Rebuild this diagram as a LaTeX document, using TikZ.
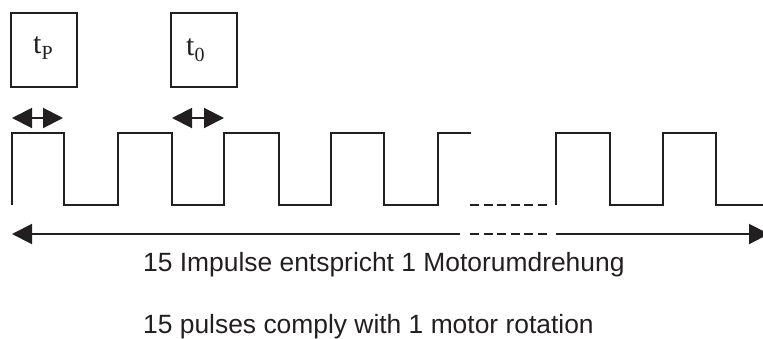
\documentclass[tikz,border=0pt]{standalone}
\usepackage{fontspec}
\setmainfont{Liberation Serif}
\newfontfamily\sansf{Liberation Sans}
\usetikzlibrary{arrows.meta}
\definecolor{fg}{HTML}{231F20}
\tikzset{
  labelbox/.style={draw=fg, line width=1.6pt, minimum width=66pt, minimum height=74pt, inner sep=0pt, text=fg},
  pulse/.style={draw=fg, line width=2pt, line join=miter},
  dashpart/.style={draw=fg, line width=2pt, dash pattern=on 9pt off 4.6pt},
  dblarrow/.style={draw=fg, line width=2pt, {Triangle[length=20pt,width=20pt]}-{Triangle[length=20pt,width=20pt]}},
  caption/.style={anchor=base west, inner sep=0pt, text=fg, font=\sansf\fontsize{26.4}{30}\selectfont}
}
\newcommand{\tlabel}[1]{\fontsize{30}{32}\selectfont t\raisebox{-6pt}{\fontsize{20}{22}\selectfont #1}}
\begin{document}
\begin{tikzpicture}[x=1pt,y=-1pt]
\useasboundingbox (0,0) rectangle (763,338);
\clip (0,0) rectangle (763,338);
% boxes
\node[labelbox] (bp) at (44,50) {};
\node[labelbox] (bz) at (204,50) {};
\node[inner sep=0pt, text=fg, anchor=base west] (lp) at (33,53) {\tlabel{P}};
\node[inner sep=0pt, text=fg, anchor=base west] (lz) at (186,55) {\tlabel{0}};
% small double arrows
\coordinate (a1l) at (12,118);
\coordinate (a1r) at (63,118);
\coordinate (a2l) at (172,118);
\coordinate (a2r) at (224,118);
\draw[dblarrow] (a1l) -- (a1r);
\draw[dblarrow] (a2l) -- (a2r);
% pulse train
\draw[pulse] (12,205) -- (12,133) -- (64,133) -- (64,205) -- (118,205) -- (118,133)
  -- (172,133) -- (172,205) -- (224,205) -- (224,133) -- (279,133) -- (279,205)
  -- (331,205) -- (331,133) -- (384,133) -- (384,205) -- (438,205) -- (438,133) -- (471,133);
\draw[dashpart] (470,205) -- (547,205);
\draw[pulse] (556,205) -- (556,133) -- (610,133) -- (610,205) -- (663,205) -- (663,133)
  -- (716,133) -- (716,205) -- (765,205);
% long arrow
\coordinate (Ltip) at (12,234);
\coordinate (La) at (460,234);
\coordinate (Da) at (470,234);
\coordinate (Db) at (547,234);
\coordinate (Rb) at (556,234);
\coordinate (Rtip) at (769,234);
\draw[draw=fg, line width=2pt, {Triangle[length=20pt,width=20pt]}-] (Ltip) -- (La);
\draw[dashpart] (Da) -- (Db);
\draw[draw=fg, line width=2pt, -{Triangle[length=20pt,width=20pt]}] (Rb) -- (Rtip);
% captions
\node[caption] (c1) at (143,271) {15 Impulse entspricht 1 Motorumdrehung};
\node[caption] (c2) at (143,333) {15 pulses comply with 1 motor rotation};
\end{tikzpicture}
\end{document}
